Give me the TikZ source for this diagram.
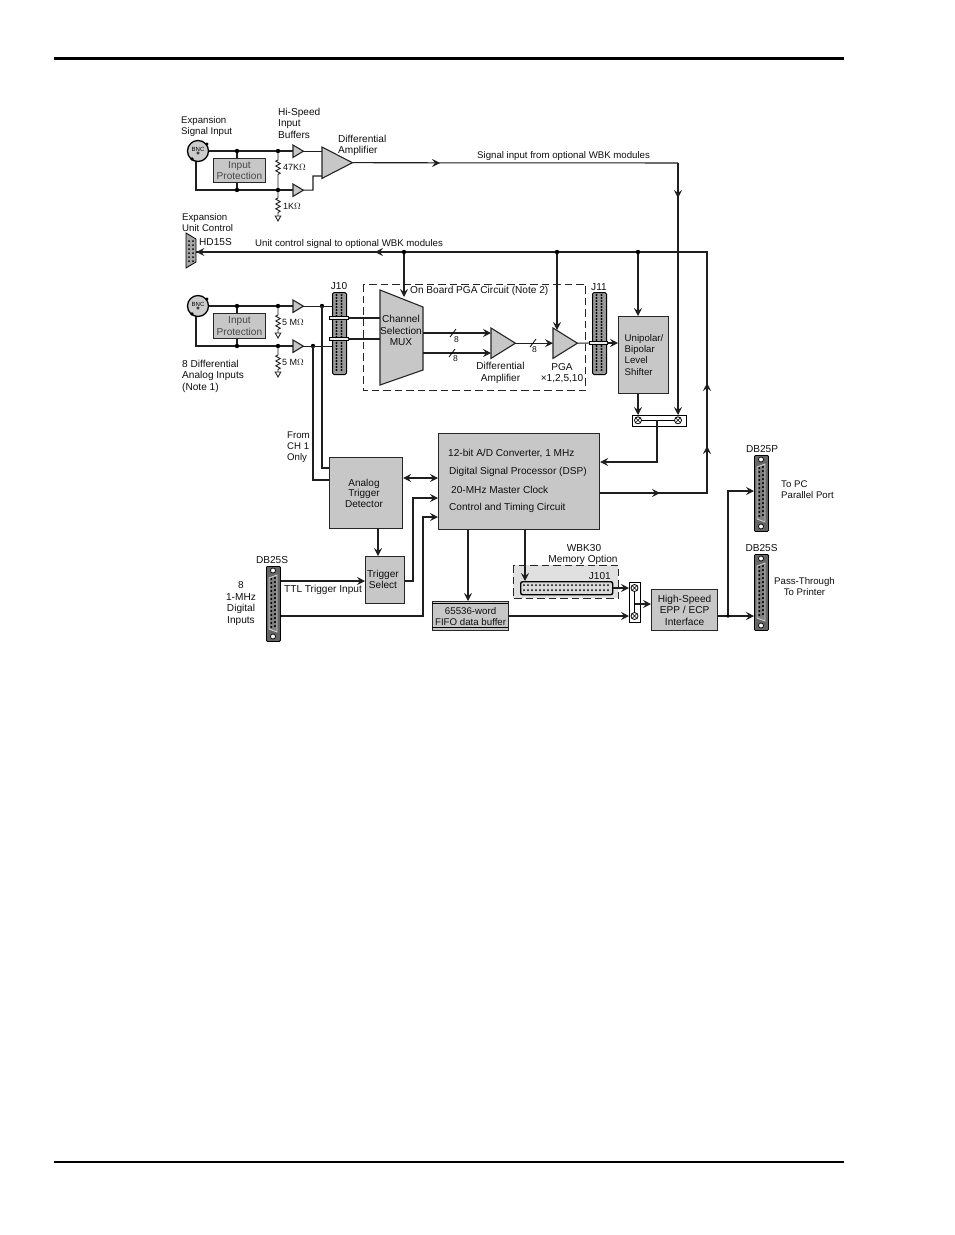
\documentclass[tikz,border=0pt]{standalone}
\usepackage{fontspec}
\setmainfont{Liberation Sans}
\usetikzlibrary{arrows.meta,calc}
\definecolor{boxgray}{gray}{0.78}
\definecolor{txt}{gray}{0.06}
\tikzset{
  x=1pt,y=-1pt,
  tip/.tip={Stealth[length=8pt,width=8pt,inset=3pt]},
  wire/.style={line width=1.05pt,draw=black!88},
  arr/.style={wire,-tip},
  blk/.style={draw=black!85,line width=1.2pt,fill=boxgray,inner sep=0pt,align=center,font=\fontsize{10.1}{11.7}\selectfont,text=txt,anchor=north west},
  lbl/.style={font=\fontsize{10.1}{11.7}\selectfont,text=txt,inner sep=0pt,align=center},
  sm/.style={font=\fontsize{9.65}{11.3}\selectfont},
  lbll/.style={lbl,align=left,anchor=west},
  ohm/.style={font=\fontsize{9}{10}\selectfont,text=txt,inner sep=0pt,anchor=west},
  dot/.style={circle,fill=black,inner sep=0pt,minimum size=4.4pt},
  dash box/.style={draw=black!85,line width=1pt,dash pattern=on 7.5pt off 4pt},
  ghost/.style={inner sep=0pt,anchor=north west},
  strip/.style={draw=black,line width=.8pt,fill=white!92!black,inner sep=0pt,minimum height=3.6pt},
  tri/.style={draw=black!85,line width=1.1pt,fill=boxgray},
}
\newcommand{\blockn}[7]{\node[blk,minimum width={#4-#2},minimum height={#5-#3},#6] (#1) at (#2,#3) {#7};}
\newcommand{\ampn}[5]{\node[ghost,minimum width={#4-#2},minimum height={#5-#3}] (#1) at (#2,#3) {};
  \draw[tri] (#1.north west) -- (#1.east) -- (#1.south west) -- cycle;}
\newcommand{\resn}[5]{
  \coordinate (#1g) at (#2,#5);
  \draw[wire,line width=.9pt] (#2,#3) -- (#2,#4-7) -- ++(-2.2,1.2) -- ++(4.4,2.4) -- ++(-4.4,2.4) -- ++(4.4,2.4) -- ++(-4.4,2.4) -- ++(4.4,2.4) -- ++(-2.2,1.2) -- (#1g);
}
\newcommand{\gndn}[1]{\draw[line width=.9pt,draw=black!85,fill=white] ($(#1)+(-2.8,0)$) -- ($(#1)+(2.8,0)$) -- ($(#1)+(0,5)$) -- cycle;}
\newcommand{\midtip}[4]{\draw[arr] (#1-#3,#2-#4) -- (#1,#2);}
\newcommand{\hdrv}[5]{\node[ghost,minimum width={#4-#2},minimum height={#5-#3},draw=black,line width=1pt,fill=black!40,rounded corners=1.5pt] (#1) at (#2,#3) {};
  \pgfmathtruncatemacro{\nn}{(#5-#3-5)/3}
  \foreach \i in {0,...,\nn} {
    \fill[black] (#2+4.5,#3+3+3*\i) circle (1.05pt);
    \fill[black] (#2+9.5,#3+3+3*\i) circle (1.05pt);
  }}
\newcommand{\dbn}[5]{\node[ghost,minimum width={#4-#2},minimum height={#5-#3},draw=black,line width=.8pt,fill=black!60,rounded corners=1pt] (#1) at (#2,#3) {};
  \fill[white,draw=black,line width=.7pt] (#2+7,#3+4.5) circle (2.5pt);
  \fill[white,draw=black,line width=.7pt] (#2+7,#5-4.5) circle (2.5pt);
  \draw[draw=white!80!black,fill=black!50,line width=.9pt] (#2+3,#3+12) -- (#2+11,#3+9) -- (#2+11,#5-9) -- (#2+3,#5-12) -- cycle;
  \foreach \i in {0,...,12} {
    \fill[black] (#2+5.3,#3+13+4*\i) circle (1.15pt);
    \fill[black] (#2+8.9,#3+12+4*\i) circle (1.15pt);
  }}
\newcommand{\bncn}[3]{\node[circle,draw=black,line width=1.3pt,fill=black!20,minimum size=21pt,inner sep=0pt,font=\fontsize{6}{6}\selectfont] (#1) at (#2,#3) {\raisebox{4pt}{BNC}};
  \fill[black] (#2-6,#3+8) circle (1.8pt);
  \fill[black] (#2+9,#3-7) circle (1.6pt);
  \fill[white,draw=black,line width=.6pt] (#2,#3+2) circle (1.2pt);}
\newcommand{\crossn}[3]{\node[circle,draw=black,line width=.8pt,fill=white,minimum size=7pt,inner sep=0pt] (#1) at (#2,#3) {};
  \draw[line width=.6pt] (#1.north west) -- (#1.south east) (#1.north east) -- (#1.south west);}
\begin{document}
\begin{tikzpicture}
\useasboundingbox (0,0) rectangle (954,1235);
\fill[white] (0,0) rectangle (954,1235);
\coordinate (ruleA) at (54,58); \coordinate (ruleB) at (844,58);
\coordinate (ruleC) at (54,1162); \coordinate (ruleD) at (844,1162);
\draw[line width=3pt] (ruleA) -- (ruleB);
\draw[line width=2pt] (ruleC) -- (ruleD);

\coordinate (a1) at (237,151); \coordinate (a2) at (278,151);
\coordinate (b1) at (237,190); \coordinate (b2) at (278,190);
\coordinate (c1) at (237,306); \coordinate (c2) at (278,306); \coordinate (c3) at (322,306);
\coordinate (d1) at (237,346); \coordinate (d2) at (278,346); \coordinate (d3) at (313,346);

\draw[wire] (196,151) -- (293,151);
\draw[wire] (196,158) -- (196,190) -- (293,190);
\draw[wire] (196,306) -- (293,306);
\draw[wire] (196,313) -- (196,346) -- (293,346);
\bncn{bncA}{198}{151}
\bncn{bncB}{198}{306}
\blockn{protA}{213}{158}{265}{182}{line width=.9pt,text=black!72}{Input\\Protection}
\blockn{protB}{213}{313}{265}{338}{line width=.9pt,text=black!72}{Input\\Protection}
\ampn{bufA}{293}{145}{303}{157}
\ampn{bufB}{293}{184}{303}{196}
\ampn{bufC}{293}{300}{303}{312}
\ampn{bufD}{293}{340}{303}{352}
\ampn{diffA}{322}{147}{352}{178}

\draw[wire] (bufA.east) -- (diffA.west |- bufA.east);
\draw[wire] (bufB.east) -- (313,190) -- (313,176) -- (diffA.west |- 0,176);
\draw[wire] (a1) -- (protA.north -| a1);
\draw[wire] (b1) -- (protA.south -| b1);
\resn{rA}{278}{151}{167}{190}
\resn{rB}{278}{190}{205}{216}
\gndn{rBg}
\draw[wire] (c1) -- (protB.north -| c1);
\draw[wire] (d1) -- (protB.south -| d1);
\resn{rC}{278}{306}{322}{333}
\gndn{rCg}
\resn{rD}{278}{346}{362}{372}
\gndn{rDg}
\foreach \p in {a1,a2,b1,b2,c1,c2,c3,d1,d2,d3} \node[dot] at (\p) {};

\node[lbll,sm,anchor=north west] at (181,116.5) {Expansion\\Signal Input};
\node[lbll,anchor=north west] (hs) at (278,107.5) {Hi-Speed\\Input\\Buffers};
\node[lbll,anchor=north west] (da) at (338,134.5) {Differential\\Amplifier};
\node[ohm] at (283,167) {47K$\Omega$};
\node[ohm] at (283,206) {1K$\Omega$};
\node[ohm] at (282,322) {5 M$\Omega$};
\node[ohm] at (282,362) {5 M$\Omega$};
\node[lbll,anchor=north west] at (182,359.5) {8 Differential\\Analog Inputs\\(Note 1)};
\node[lbll,sm,anchor=north west] at (287,431.5) {From\\CH 1\\Only};

\node[ghost,minimum width=10pt,minimum height=35pt] (hd) at (186,233) {};
\draw[line width=.8pt,fill=black!35] (186,233) -- (196,239) -- (196,262) -- (186,268) -- cycle;
\foreach \yy in {241,245,...,261} {\fill[black] (189,\yy) circle (1pt); \fill[black] (193,\yy) circle (1pt);}
\node[lbll,sm,anchor=north west] at (182,213.5) {Expansion\\Unit Control};
\node[lbll] at (199,242) {HD15S};

\node[ghost,minimum width=222pt,minimum height=106pt] (pgabox) at (363,284) {};
\draw[dash box] (pgabox.north west) rectangle (pgabox.south east);
\node[lbll] at (410,291) {On Board PGA Circuit (Note 2)};
\node[ghost,minimum width=43pt,minimum height=95pt] (mux) at (380,290) {};
\draw[tri] (380,290) -- (423,307) -- (423,370) -- (380,385) -- cycle;
\node[lbl] at (401,330.5) {Channel\\Selection\\MUX};
\ampn{diffB}{491}{328}{515}{358}
\ampn{pga}{553}{328}{577}{358}
\node[lbl] (dl) at (500.5,373) {Differential\\Amplifier};
\node[lbl] (pl) at (562,373) {PGA\\×1,2,5,10};
\hdrv{jten}{332}{292}{346}{374}
\hdrv{jele}{592}{292}{606}{374}
\node[lbl] at (339,286) {J10};
\node[lbl] at (599,287) {J11};
\node[strip,minimum width=19pt] (s1) at (338.5,318) {};
\node[strip,minimum width=19pt] (s2) at (338.5,339) {};
\node[strip,minimum width=18pt] (s3) at (598,343) {};

\draw[wire] (bufC.east) -- (jten.west |- bufC.east);
\draw[wire] (bufD.east) -- (jten.west |- bufD.east);
\draw[wire] (s1.east) -- (380,318);
\draw[wire] (s2.east) -- (380,339);
\draw[arr] (423,333) -- (diffB.west |- 0,333);
\draw[arr] (423,353) -- (diffB.west |- 0,353);
\draw[arr] (diffB.east) -- (pga.west);
\draw[wire] (pga.east) -- (s3.west);
\foreach \sx/\sy in {453/333,452/353,533/343} \draw[line width=.8pt] (\sx-3,\sy+4) -- (\sx+3,\sy-4);
\node[lbl,font=\fontsize{8.5}{8.5}\selectfont] at (456.5,339.5) {8};
\node[lbl,font=\fontsize{8.5}{8.5}\selectfont] at (455.5,358.5) {8};
\node[lbl,font=\fontsize{8.5}{8.5}\selectfont] at (534.5,350) {8};

\blockn{shift}{618}{316}{668}{393}{}{}
\node[lbll,sm,anchor=north west] at (624.5,334) {Unipolar/\\Bipolar\\Level\\Shifter};
\draw[arr] (s3.east) -- (shift.west |- s3.east);

\node[ghost,minimum width=54pt,minimum height=10.5pt,draw=black,line width=.9pt,fill=white] (swA) at (632,415) {};
\draw[line width=.8pt] (642,420.3) -- (674,420.3);
\crossn{xa}{638}{420.3}
\crossn{xb}{678}{420.3}
\draw[arr] (shift.south -| xa) -- (swA.north -| xa);
\coordinate (topj) at (678,163);
\draw[arr] (topj) -- (swA.north -| xb);
\draw[wire] (diffA.east) -- (topj);

\blockn{adc}{438}{433}{599}{529}{}{}
\node[lbll] at (448,453) {12-bit A/D Converter, 1 MHz};
\node[lbll] at (449,472) {Digital Signal Processor (DSP)};
\node[lbll] at (451,490) {20-MHz Master Clock};
\node[lbll] at (449,508) {Control and Timing Circuit};
\coordinate (swout) at (657,420.3);
\draw[arr] (swout) -- (657,462) -- (adc.east |- 0,462);

\blockn{atd}{329}{457}{402}{528}{}{}
\node[lbl,font=\fontsize{10}{10.5}\selectfont] at (364,493) {Analog\\Trigger\\Detector};
\blockn{tsel}{365}{556}{404}{603}{}{}
\node[lbl] at (383,579.5) {Trigger\\Select};
\blockn{fifo}{432}{601}{508}{630}{font=\fontsize{9.7}{11}\selectfont}{65536-word\\FIFO data buffer}
\draw[line width=.8pt] (432,603.5) -- (508,603.5) (432,627.5) -- (508,627.5);
\draw[wire] (c3) -- (322,468) -- (atd.west |- 0,468);
\draw[wire] (d3) -- (313,480) -- (atd.west |- 0,480);
\draw[wire,{tip}-{tip}] (atd.east |- 0,478) -- (adc.west |- 0,478);
\draw[arr] (atd.south -| 378,0) -- (tsel.north -| 378,0);
\draw[arr] (tsel.east |- 0,581) -- (413,581) -- (413,498) -- (adc.west |- 0,498);
\dbn{dbA}{266}{566}{280}{641}
\node[lbl] at (272,560) {DB25S};
\draw[arr] (dbA.east |- 0,581) -- (tsel.west |- 0,581);
\draw[arr] (dbA.east |- 0,616) -- (423,616) -- (423,517) -- (adc.west |- 0,517);
\node[lbl] at (323,590) {TTL Trigger Input};
\node[lbl] (dig) at (241,603.5) {8\\1-MHz\\Digital\\Inputs};
\draw[arr] (adc.south -| 468,0) -- (fifo.north -| 468,0);

\node[ghost,minimum width=105pt,minimum height=33pt,fill=black!12] (wbk) at (513,565) {};
\draw[dash box,line width=1pt] (wbk.north west) rectangle (wbk.south east);
\node[lbl] at (584,548) {WBK30};
\node[lbl] at (583,560) {Memory Option};
\node[lbl,anchor=east] at (611,576) {J101};
\node[ghost,minimum width=92pt,minimum height=13pt,draw=black,line width=1.4pt,fill=black!15,rounded corners=2pt] (jh) at (520,581) {};
\foreach \xx in {524,528,...,608} {\fill[black] (\xx,585) circle (1pt); \fill[black] (\xx,590) circle (1pt);}
\draw[arr] (adc.south -| 525,0) -- (jh.north -| 525,0);

\node[ghost,minimum width=11pt,minimum height=40pt,draw=black,line width=.9pt,fill=white] (swB) at (629,582) {};
\draw[line width=.8pt] (634.5,591) -- (634.5,613);
\crossn{xc}{634.5}{588}
\crossn{xd}{634.5}{616}
\draw[arr] (jh.east |- 0,588) -- (swB.west |- 0,588);
\draw[arr] (fifo.east |- 0,616) -- (swB.west |- 0,616);
\blockn{epp}{651}{589}{717}{630}{}{High-Speed\\EPP / ECP\\Interface}
\draw[arr] (634.5,604) -- (epp.west |- 0,604);

\dbn{dbP}{754}{455}{768}{531}
\dbn{dbS}{754}{554}{768}{630}
\node[lbl] at (762,449) {DB25P};
\node[lbl] at (761.5,548) {DB25S};
\coordinate (ej) at (728,616);
\draw[arr] (epp.east |- ej) -- (dbS.west |- ej);
\draw[arr] (ej) -- (728,491) -- (dbP.west |- 0,491);
\node[dot,minimum size=3.6pt] at (ej) {};
\node[lbll,sm,anchor=north west] at (781,480.5) {To PC\\Parallel Port};
\node[lbl,sm] at (804.5,586.5) {Pass-Through\\To Printer};

\coordinate (bus) at (707,252);
\coordinate (busB) at (707,493);
\draw[wire] (adc.east |- busB) -- (busB) -- (bus) -- (hd.east |- bus);
\midtip{660}{493}{4}{0}
\midtip{707}{446}{0}{-4}
\midtip{707}{383}{0}{-4}
\midtip{375}{252}{-4}{0}
\midtip{440}{163}{4}{0}
\midtip{678}{198}{0}{4}
\draw[arr] (206,252) -- (hd.east |- bus);
\coordinate (u1) at (404,252); \coordinate (u2) at (557,252); \coordinate (u3) at (638,252);
\draw[arr] (u1) -- (404,297);
\draw[arr] (u2) -- (557,330);
\draw[arr] (u3) -- (shift.north -| u3);
\foreach \p in {u1,u2,u3} \node[dot] at (\p) {};
\node[lbl,sm,anchor=west] at (477,156) {Signal input from optional WBK modules};
\node[lbl,sm,anchor=west] at (255,244) {Unit control signal to optional WBK modules};
\end{tikzpicture}
\end{document}
